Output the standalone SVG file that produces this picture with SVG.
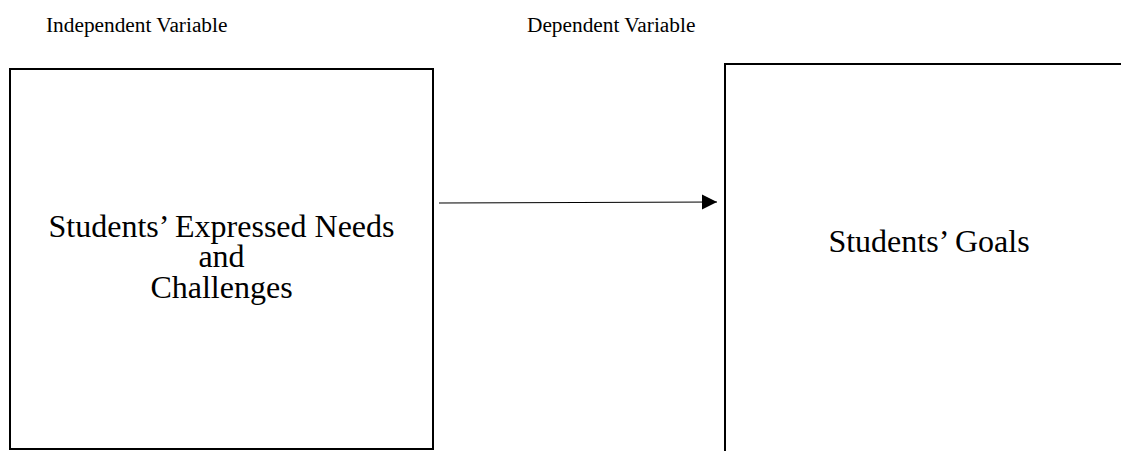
<svg xmlns="http://www.w3.org/2000/svg" width="1121" height="451" viewBox="0 0 1121 451">
  <style>
    .lbl { font-family: "Liberation Serif", "Times New Roman", serif; font-size: 21.33px; fill: #000; }
    .big { font-family: "Liberation Serif", "Times New Roman", serif; font-size: 32px; fill: #000; text-anchor: middle; }
    .box { fill: #fff; stroke: #000; stroke-width: 2; }
    .conn { stroke: #000; stroke-width: 1.2; fill: none; }
  </style>
  <defs>
    <marker id="arrow" markerUnits="userSpaceOnUse" markerWidth="16" markerHeight="16" refX="15" refY="8" orient="auto">
      <path d="M0,0.5 L15,8 L0,15.5 Z" fill="#000"/>
    </marker>
  </defs>
  <rect width="1121" height="451" fill="#fff"/>
  <g id="label-independent">
    <text class="lbl" x="46" y="32">Independent Variable</text>
  </g>
  <g id="label-dependent">
    <text class="lbl" x="527" y="32">Dependent Variable</text>
  </g>
  <g id="node-needs">
    <rect class="box" x="10" y="69" width="423" height="380"/>
    <text class="big" x="221.5" y="237">Students’ Expressed Needs</text>
    <text class="big" x="221.5" y="267">and</text>
    <text class="big" x="221.5" y="298">Challenges</text>
  </g>
  <g id="node-goals">
    <path class="box" d="M725,460 V64 H1130"/>
    <text class="big" x="929" y="252">Students’ Goals</text>
  </g>
  <g id="connectors">
    <line class="conn" x1="439" y1="203" x2="717" y2="202" marker-end="url(#arrow)"/>
  </g>
</svg>
